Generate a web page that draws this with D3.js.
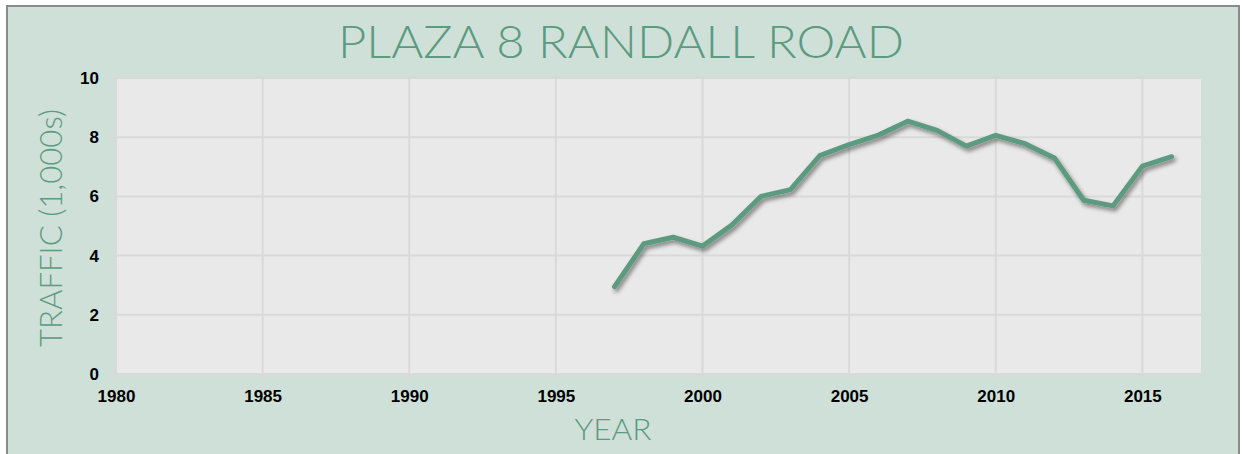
<!DOCTYPE html>
<html>
<head>
<meta charset="utf-8">
<script src="https://cdn.jsdelivr.net/npm/d3@7"></script>
<style>
  body { margin: 0; background: #ffffff; }
  svg { display: block; }
</style>
</head>
<body>
<script>
// chart values
var years = [1997, 1998, 1999, 2000, 2001, 2002, 2003, 2004, 2005, 2006,
             2007, 2008, 2009, 2010, 2011, 2012, 2013, 2014, 2015, 2016];
var traffic = [2.95, 4.4, 4.62, 4.32, 5.03, 6.0, 6.23, 7.38, 7.75, 8.07,
               8.54, 8.23, 7.7, 8.06, 7.78, 7.3, 5.87, 5.68, 7.02, 7.34];
var xTicks = [1980, 1985, 1990, 1995, 2000, 2005, 2010, 2015];
var yTicks = [0, 2, 4, 6, 8, 10];
var chartTitle = 'PLAZA 8 RANDALL ROAD';
var xTitle = 'YEAR';
var yTitle = 'TRAFFIC (1,000s)';

var width = 1243, height = 454;
var plot = { left: 116, right: 1201, top: 78, bottom: 374 };

var green = '#5c9b7f';

var svg = d3.select('body').append('svg')
  .attr('width', width)
  .attr('height', height);

// drop shadow for the line
var defs = svg.append('defs');
defs.append('filter')
  .attr('id', 'shadow')
  .attr('x', '-5%').attr('y', '-20%')
  .attr('width', '110%').attr('height', '140%')
  .append('feDropShadow')
  .attr('dx', 2).attr('dy', 3)
  .attr('stdDeviation', 2.2)
  .attr('flood-color', '#000')
  .attr('flood-opacity', 0.45);

// chart area box
svg.append('rect')
  .attr('x', 7).attr('y', 6)
  .attr('width', 1232).attr('height', 470)
  .style('fill', '#cfe0d9')
  .style('stroke', '#8a8a8a')
  .style('stroke-width', 2);

var x = d3.scaleLinear().domain([1980, 2017]).range([plot.left, plot.right]);
var y = d3.scaleLinear().domain([0, 10]).range([plot.bottom, plot.top]);

// plot background
svg.append('rect')
  .attr('x', plot.left).attr('y', plot.top)
  .attr('width', plot.right - plot.left)
  .attr('height', plot.bottom - plot.top)
  .style('fill', '#e9e9e9');

// gridlines
svg.append('g')
  .selectAll('line')
  .data(yTicks)
  .enter().append('line')
  .attr('x1', plot.left - 6).attr('x2', plot.right)
  .attr('y1', function(d) { return y(d); })
  .attr('y2', function(d) { return y(d); })
  .style('stroke', '#d9d9d9')
  .style('stroke-width', 2);

svg.append('g')
  .selectAll('line')
  .data(xTicks)
  .enter().append('line')
  .attr('x1', function(d) { return x(d); })
  .attr('x2', function(d) { return x(d); })
  .attr('y1', plot.top).attr('y2', plot.bottom + 5)
  .style('stroke', '#d9d9d9')
  .style('stroke-width', 2);

// tick labels via d3 axes
var xAxis = svg.append('g')
  .attr('transform', 'translate(0,' + plot.bottom + ')')
  .call(d3.axisBottom(x).tickValues(xTicks).tickFormat(d3.format('d')).tickSize(0).tickPadding(16));

var yAxis = svg.append('g')
  .attr('transform', 'translate(' + plot.left + ',0)')
  .call(d3.axisLeft(y).tickValues(yTicks).tickSize(0).tickPadding(17));

[xAxis, yAxis].forEach(function(a) {
  a.select('.domain').remove();
  a.selectAll('text')
    .style('font-family', '"Liberation Sans", Arial, sans-serif')
    .style('font-weight', 'bold')
    .style('font-size', '17px')
    .style('fill', '#000');
});

// the series
var line = d3.line()
  .x(function(d, i) { return x(years[i]); })
  .y(function(d) { return y(d); });

svg.append('path')
  .datum(traffic)
  .attr('d', line)
  .attr('filter', 'url(#shadow)')
  .style('fill', 'none')
  .style('stroke', green)
  .style('stroke-width', 5)
  .style('stroke-linejoin', 'round')
  .style('stroke-linecap', 'round');

// titles
function lightText(sel, size, len) {
  return sel
    .attr('text-anchor', 'middle')
    .attr('textLength', len)
    .attr('lengthAdjust', 'spacingAndGlyphs')
    .style('font-family', 'Lato, "Open Sans", sans-serif')
    .style('font-weight', 300)
    .style('font-size', size + 'px')
    .style('fill', green);
}

lightText(svg.append('text').attr('x', 621).attr('y', 58), 46, 566)
  .text(chartTitle);

lightText(svg.append('text').attr('x', 613).attr('y', 440), 30, 77)
  .text(xTitle);

lightText(svg.append('text')
  .attr('transform', 'translate(62,228) rotate(-90)'), 31, 238)
  .text(yTitle);
</script>
</body>
</html>
